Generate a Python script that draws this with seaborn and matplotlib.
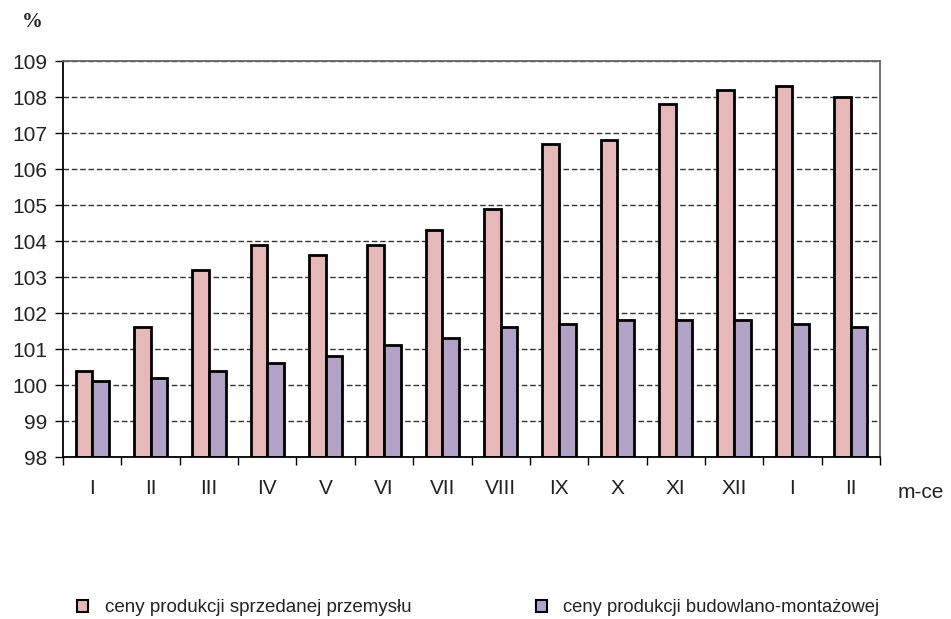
import pandas as pd
import numpy as np
import matplotlib.pyplot as plt
import seaborn as sns
from matplotlib.patches import Patch

months = ["I", "II", "III", "IV", "V", "VI", "VII", "VIII", "IX", "X", "XI", "XII", "I ", "II "]
przemysl = [100.4, 101.6, 103.2, 103.9, 103.6, 103.9, 104.3, 104.9, 106.7, 106.8, 107.8, 108.2, 108.3, 108.0]
budowlano = [100.1, 100.2, 100.4, 100.6, 100.8, 101.1, 101.3, 101.6, 101.7, 101.8, 101.8, 101.8, 101.7, 101.6]
series_names = ["ceny produkcji sprzedanej przemysłu", "ceny produkcji budowlano-montażowej"]
colors = ["#E6B8B7", "#B3A2C7"]

df = pd.DataFrame({"miesiac": months * 2,
                   "wartosc": przemysl + budowlano,
                   "seria": [series_names[0]] * len(months) + [series_names[1]] * len(months)})

sns.set_style("white")
plt.rcParams['font.family'] = ['Liberation Sans', 'DejaVu Sans']

fig = plt.figure(figsize=(9.51, 6.19), dpi=100)
ax = fig.add_axes([63 / 951, 1 - 457 / 619, (880 - 63) / 951, (457 - 61) / 619])

# bars start at 98 (bottom of axis), so plot heights above 98
df["h"] = df["wartosc"] - 98
sns.barplot(data=df, x="miesiac", y="h", hue="seria", palette=colors, order=months,
            hue_order=series_names, width=0.57, bottom=98, edgecolor="black", saturation=1,
            linewidth=2, ax=ax, legend=False, zorder=3)

ax.set_ylim(98, 109)
ax.set_xlim(-0.5, len(months) - 0.5)
ax.set_yticks(np.arange(98, 110, 1))
ax.tick_params(axis="y", left=True, direction="out", length=6, width=1, color="black",
               labelsize=15, labelcolor="#222222", pad=5)
ax.set_xticks(np.arange(len(months)))
ax.set_xticklabels([m.strip() for m in months])
ax.set_xticks(np.arange(-0.5, len(months), 1), minor=True)
ax.tick_params(axis="x", which="major", bottom=True, length=0, labelsize=15, labelcolor="#222222", pad=16)
ax.tick_params(axis="x", which="minor", bottom=True, direction="out", length=6, width=1, color="black")
ax.yaxis.grid(True, linestyle=(0, (4, 2)), color="#333333", linewidth=1, zorder=0)
ax.set_axisbelow(True)
ax.set_xlabel("")
ax.set_ylabel("")

for s in ["left", "bottom"]:
    ax.spines[s].set_color("black")
    ax.spines[s].set_linewidth(1.3)
for s in ["top", "right"]:
    ax.spines[s].set_color("#666666")
    ax.spines[s].set_linewidth(1.3)
ax.spines["bottom"].set_zorder(5)

fig.text(22 / 951, 1 - 22 / 619, "%", fontsize=15, fontweight="bold", family="Liberation Serif", va="center")
fig.text(898 / 951, 1 - 493 / 619, "m-ce", fontsize=15, color="#222222", va="center")

handles = [Patch(facecolor=c, edgecolor="black", linewidth=1.5) for c in colors]
fig.legend(handles[:1], series_names[:1], loc="center left", bbox_to_anchor=(60 / 951, 1 - 608 / 619),
           frameon=False, fontsize=13.5, handlelength=0.6, handleheight=0.6, handletextpad=0.9,
           labelcolor="#222222")
fig.legend(handles[1:], series_names[1:], loc="center left", bbox_to_anchor=(519 / 951, 1 - 608 / 619),
           frameon=False, fontsize=13.2, handlelength=0.6, handleheight=0.6, handletextpad=0.9,
           labelcolor="#222222")

fig.savefig("out.png", dpi=100)
